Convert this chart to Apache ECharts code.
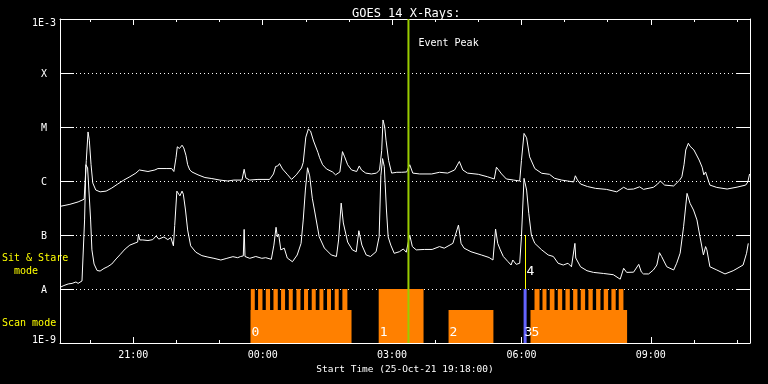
<!DOCTYPE html>
<html><head><meta charset="utf-8">
<script src="https://cdn.jsdelivr.net/npm/echarts@6/dist/echarts.min.js"></script>
<style>html,body{margin:0;padding:0;background:#000}#c{width:768px;height:384px}</style>
</head><body><div id="c"></div>
<script>
// Time: decimal hours since 00:00 UT on 25-Oct-21 (24 = 00:00 on 26-Oct)
const axisStart = 19.3;   // 19:18
const axisEnd = 35.3;     // 11:18 next day
const majorHours = [21, 24, 27, 30, 33];
const minorHours = [20, 22, 23, 25, 26, 28, 29, 31, 32, 34, 35];
const classLabels = {'-3': '1E-3', '-4': 'X', '-5': 'M', '-6': 'C', '-7': 'B', '-8': 'A', '-9': '1E-9'};

// GOES 14 long channel (1-8 A), W/m^2
const longTime = [19.31,19.53,19.72,19.86,19.91,19.95,19.98,20.02,20.06,20.13,20.23,20.37,20.50,20.64,20.78,20.92,21.06,21.14,21.18,21.34,21.50,21.57,21.76,21.89,21.94,21.99,22.02,22.07,22.13,22.17,22.22,22.26,22.31,22.36,22.50,22.66,22.82,23.01,23.19,23.33,23.52,23.57,23.61,23.70,23.89,24.16,24.25,24.30,24.35,24.39,24.46,24.58,24.67,24.78,24.90,24.94,25.00,25.06,25.11,25.18,25.28,25.32,25.39,25.48,25.62,25.69,25.79,25.85,25.90,25.97,26.06,26.18,26.24,26.29,26.39,26.52,26.64,26.71,26.76,26.79,26.83,26.86,26.92,26.99,27.11,27.22,27.34,27.41,27.48,27.64,27.92,28.10,28.29,28.45,28.56,28.64,28.75,29.00,29.21,29.37,29.42,29.47,29.54,29.65,29.82,29.96,30.00,30.06,30.12,30.19,30.31,30.47,30.65,30.77,30.93,31.07,31.21,31.25,31.30,31.37,31.53,31.72,31.97,32.21,32.37,32.46,32.60,32.74,32.83,33.06,33.16,33.22,33.32,33.53,33.67,33.72,33.77,33.81,33.87,33.91,33.95,34.00,34.12,34.19,34.23,34.27,34.31,34.37,34.53,34.77,35.00,35.20,35.25,35.29];
const longFlux = [3.4e-7,3.7e-7,4.1e-7,4.6e-7,2.4e-6,8.1e-6,5.7e-6,2.0e-6,9.2e-7,6.8e-7,6.3e-7,6.5e-7,7.4e-7,8.8e-7,1.04e-6,1.2e-6,1.4e-6,1.6e-6,1.47e-6,1.5e-6,1.6e-6,1.7e-6,1.7e-6,1.7e-6,1.5e-6,2.7e-6,4.3e-6,4.0e-6,4.6e-6,4.1e-6,3.0e-6,2.0e-6,1.6e-6,1.47e-6,1.3e-6,1.16e-6,1.11e-6,1.04e-6,1.0e-6,1.04e-6,1.04e-6,1.65e-6,1.14e-6,1.04e-6,1.07e-6,1.07e-6,1.35e-6,1.86e-6,1.9e-6,2.1e-6,1.67e-6,1.3e-6,1.07e-6,1.3e-6,1.74e-6,2.2e-6,6.5e-6,9.2e-6,8.4e-6,5.5e-6,3.4e-6,2.7e-6,2.0e-6,1.67e-6,1.47e-6,1.3e-6,1.47e-6,3.5e-6,2.8e-6,2.0e-6,1.6e-6,1.5e-6,1.9e-6,1.6e-6,1.4e-6,1.35e-6,1.4e-6,1.6e-6,3.7e-6,1.35e-5,1.0e-5,5.7e-6,2.4e-6,1.4e-6,1.45e-6,1.45e-6,1.47e-6,2.0e-6,1.4e-6,1.35e-6,1.35e-6,1.45e-6,1.4e-6,1.6e-6,2.3e-6,1.6e-6,1.4e-6,1.33e-6,1.2e-6,1.09e-6,1.8e-6,1.6e-6,1.35e-6,1.09e-6,1.04e-6,1.0e-6,2.4e-6,7.6e-6,6.3e-6,2.8e-6,1.7e-6,1.39e-6,1.33e-6,1.12e-6,1.04e-6,1.0e-6,9.6e-7,1.25e-6,1.04e-6,8.8e-7,7.9e-7,7.3e-7,7.0e-7,6.3e-7,7.65e-7,7.0e-7,7.1e-7,7.8e-7,7.0e-7,7.65e-7,8.8e-7,1.0e-6,8.4e-7,8.1e-7,1.04e-6,1.2e-6,2.0e-6,3.75e-6,5.0e-6,4.4e-6,4.4e-6,3.75e-6,2.45e-6,1.8e-6,1.3e-6,1.47e-6,1.45e-6,8.4e-7,7.6e-7,7.1e-7,7.7e-7,8.4e-7,9.6e-7,1.35e-6];

// GOES 14 short channel (0.5-4 A), W/m^2
const shortTime = [19.32,19.39,19.49,19.58,19.67,19.72,19.81,19.84,19.87,19.90,19.94,19.97,20.01,20.04,20.09,20.16,20.23,20.32,20.41,20.50,20.60,20.69,20.81,20.92,21.04,21.10,21.12,21.15,21.22,21.34,21.45,21.53,21.59,21.71,21.80,21.87,21.93,21.96,22.01,22.04,22.08,22.13,22.16,22.21,22.26,22.33,22.45,22.59,22.73,22.87,23.03,23.17,23.31,23.42,23.49,23.55,23.57,23.59,23.70,23.84,23.98,24.07,24.20,24.26,24.31,24.34,24.37,24.42,24.50,24.57,24.69,24.80,24.89,24.94,24.99,25.04,25.09,25.15,25.20,25.31,25.43,25.59,25.71,25.76,25.82,25.87,25.97,26.08,26.17,26.23,26.30,26.40,26.50,26.63,26.70,26.74,26.78,26.82,26.87,26.91,26.97,27.05,27.17,27.26,27.33,27.41,27.47,27.56,27.75,27.93,28.10,28.21,28.41,28.54,28.60,28.67,28.83,29.07,29.25,29.34,29.40,29.45,29.51,29.58,29.69,29.76,29.80,29.88,29.96,30.00,30.06,30.12,30.17,30.23,30.31,30.47,30.62,30.74,30.85,30.97,31.08,31.16,31.24,31.26,31.29,31.37,31.52,31.67,31.90,32.13,32.29,32.37,32.44,32.60,32.72,32.78,32.83,32.95,33.06,33.14,33.20,33.25,33.37,33.53,33.60,33.68,33.76,33.84,33.91,33.99,34.07,34.14,34.22,34.27,34.30,34.37,34.53,34.72,34.91,35.14,35.22,35.26];
const shortFlux = [1.09e-8,1.16e-8,1.24e-8,1.27e-8,1.35e-8,1.27e-8,1.41e-8,1.41e-8,1.9e-7,2.0e-6,1.74e-6,6.8e-7,1.9e-7,5.3e-8,2.9e-8,2.2e-8,2.15e-8,2.4e-8,2.6e-8,2.9e-8,3.6e-8,4.3e-8,5.5e-8,6.5e-8,7.1e-8,7.4e-8,1.04e-7,8.1e-8,8.1e-8,7.9e-8,8.2e-8,9.6e-8,8.4e-8,9.2e-8,8.2e-8,9.0e-8,6.3e-8,1.5e-7,6.5e-7,6.5e-7,5.3e-7,6.5e-7,5.7e-7,2.9e-7,1.24e-7,6.3e-8,4.8e-8,4.15e-8,3.9e-8,3.7e-8,3.44e-8,3.7e-8,3.97e-8,3.8e-8,4.0e-8,4.1e-8,1.27e-7,4.0e-8,3.7e-8,4.0e-8,3.7e-8,3.8e-8,3.55e-8,6.5e-8,1.39e-7,9.2e-8,1.04e-7,5.3e-8,5.7e-8,3.75e-8,3.2e-8,4.26e-8,7.0e-8,1.9e-7,6.8e-7,1.76e-6,1.24e-6,4.8e-7,2.9e-7,9.3e-8,5.74e-8,4.27e-8,4.0e-8,8.1e-8,3.9e-7,1.67e-7,7.4e-8,5.3e-8,4.9e-8,1.2e-7,6.5e-8,4.27e-8,4.0e-8,4.9e-8,9.3e-8,1.25e-6,2.6e-6,1.84e-6,2.9e-7,9.2e-8,6.5e-8,4.58e-8,4.9e-8,5.5e-8,4.8e-8,1.0e-7,6.1e-8,5.3e-8,5.4e-8,5.4e-8,6.1e-8,5.7e-8,7.0e-8,1.53e-7,7.0e-8,5.7e-8,4.9e-8,4.27e-8,3.83e-8,3.44e-8,1.29e-7,7.0e-8,5.3e-8,4.0e-8,3.2e-8,2.78e-8,3.44e-8,2.86e-8,3.0e-8,9.3e-8,1.12e-6,6.8e-7,2.52e-7,1.0e-7,7.0e-8,5.3e-8,4.27e-8,4.0e-8,3.0e-8,2.78e-8,3.0e-8,2.58e-8,7.0e-8,3.75e-8,4.0e-8,2.58e-8,2.18e-8,2.03e-8,1.94e-8,1.84e-8,1.52e-8,2.42e-8,2.03e-8,2.05e-8,2.86e-8,2.07e-8,1.9e-8,1.9e-8,2.25e-8,2.78e-8,4.7e-8,4.0e-8,2.58e-8,2.25e-8,3.0e-8,4.6e-8,1.42e-7,5.9e-7,3.86e-7,2.9e-7,1.9e-7,9.3e-8,4.27e-8,6.1e-8,5.3e-8,2.58e-8,2.25e-8,1.9e-8,2.18e-8,2.78e-8,4.6e-8,7.0e-8];

// Observation blocks (IDs, start/end hours, bar top value on the flux axis)
const blockLabel = ['0', '1', '2', '5'];
const blockStart = [23.72, 26.69, 28.31, 30.21];
const blockEnd   = [26.06, 27.73, 29.35, 32.45];
const blockTop   = [4.1e-9, 1e-8, 4.1e-9, 4.1e-9];
// individual scan rasters (full height)
const rasterStart = [23.724,23.893,24.072,24.250,24.426,24.605,24.783,24.959,25.137,25.316,25.492,25.670,25.848,
                     30.303,30.488,30.657,30.843,31.021,31.199,31.375,31.553,31.732,31.908,32.086,32.256];
const rasterEnd   = [23.817,23.995,24.171,24.350,24.519,24.697,24.876,25.052,25.230,25.408,25.584,25.763,25.964,
                     30.419,30.581,30.766,30.945,31.121,31.299,31.477,31.653,31.832,32.010,32.186,32.365];
const block3Start = 30.05, block3End = 30.12, block3Top = 1e-8;   // obs 3
const event4Time = 30.094;   // obs 4 (sit & stare)
const eventPeak = 27.38;     // event peak 03:23

const FONT = 'DejaVu Sans Mono';
const ORANGE = '#ff8000', BLUE = '#6464ff', GREEN = '#99cc00', YELLOW = '#ffff00';
const zip = (a, b) => a.map((t, i) => [t, b[i]]);
const fmtHour = v => String(((Math.round(v) % 24) + 24) % 24).padStart(2, '0') + ':00';

const rects = blockStart.map((s, i) => [s, blockEnd[i], blockTop[i], 0])
  .concat(rasterStart.map((s, i) => [s, rasterEnd[i], 1e-8, 0]))
  .concat([[block3Start, block3End, block3Top, 1]]);
const labelTimes = blockStart.concat([block3Start]);
const labelTexts = blockLabel.concat(['3']);

const chart = echarts.init(document.getElementById('c'));
const white = '#ffffff';
const xBase = {type: 'value', min: axisStart, max: axisEnd, splitLine: {show: false}, gridIndex: 0};
const option = {
  backgroundColor: '#000',
  animation: false,
  title: {text: 'GOES 14 X-Rays:', left: 347, top: 3,
    textStyle: {color: white, fontFamily: FONT, fontSize: 12, fontWeight: 'normal'}},
  grid: {left: 60, right: 18, top: 19, bottom: 41},
  xAxis: [
    Object.assign({}, xBase, {position: 'bottom',
      axisLine: {show: true, lineStyle: {color: white, width: 1}},
      axisTick: {show: true, inside: true, length: 6, customValues: majorHours, lineStyle: {color: white}},
      axisLabel: {show: true, customValues: majorHours, formatter: fmtHour, color: white, fontFamily: FONT, fontSize: 10, margin: 7},
      name: 'Start Time (25-Oct-21 19:18:00)', nameLocation: 'middle', nameGap: 20,
      nameTextStyle: {color: white, fontFamily: FONT, fontSize: 9.5}}),
    Object.assign({}, xBase, {position: 'bottom',
      axisLine: {show: false},
      axisTick: {show: true, inside: true, length: 3, customValues: minorHours, lineStyle: {color: white}},
      axisLabel: {show: false}}),
    Object.assign({}, xBase, {position: 'top',
      axisLine: {show: true, lineStyle: {color: white, width: 1}},
      axisTick: {show: true, inside: true, length: 6, customValues: majorHours, lineStyle: {color: white}},
      axisLabel: {show: false}}),
    Object.assign({}, xBase, {position: 'top',
      axisLine: {show: false},
      axisTick: {show: true, inside: true, length: 3, customValues: minorHours, lineStyle: {color: white}},
      axisLabel: {show: false}})
  ],
  yAxis: [
    {type: 'log', logBase: 10, min: 1e-9, max: 1e-3, splitNumber: 6, position: 'left',
      axisLine: {show: true, lineStyle: {color: white}},
      axisTick: {show: true, inside: true, length: 14, lineStyle: {color: white}},
      splitLine: {show: true, lineStyle: {color: white, type: [1, 3], width: 1}},
      axisLabel: {show: true, color: white, fontFamily: FONT, fontSize: 10, align: 'center', margin: 16,
        formatter: v => {
          const e = Math.round(Math.log10(v));
          const s = classLabels[e] || '';
          return e === -3 ? '{t|' + s + '}' : (e === -9 ? '{b|' + s + '}' : '{n|' + s + '}');
        },
        rich: {
          t: {padding: [8, 0, 0, 0], color: white, fontFamily: FONT, fontSize: 10},
          b: {padding: [0, 0, 6, 0], color: white, fontFamily: FONT, fontSize: 10},
          n: {padding: [2, 0, 0, 0], color: white, fontFamily: FONT, fontSize: 10}
        }}},
    {type: 'log', logBase: 10, min: 1e-9, max: 1e-3, splitNumber: 6, position: 'right',
      axisLine: {show: true, lineStyle: {color: white}},
      axisTick: {show: true, inside: true, length: 14, lineStyle: {color: white}},
      splitLine: {show: false}, axisLabel: {show: false}}
  ],
  graphic: [
    {type: 'text', left: 2, top: 252, style: {text: 'Sit & Stare\n  mode', fill: YELLOW, font: '10px ' + FONT, lineHeight: 13}},
    {type: 'text', left: 2, top: 318, style: {text: 'Scan mode', fill: YELLOW, font: '10px ' + FONT}}
  ],
  series: [
    {type: 'custom', name: 'obs', xAxisIndex: 0, yAxisIndex: 0, clip: true, z: 2,
      data: rects,
      renderItem: (params, api) => {
        const p0 = api.coord([api.value(0), api.value(2)]);
        const p1 = api.coord([api.value(1), 1e-9]);
        return {type: 'rect', shape: {x: p0[0], y: p0[1], width: p1[0] - p0[0], height: p1[1] - p0[1]},
          style: {fill: api.value(3) === 1 ? BLUE : ORANGE}};
      }},
    {type: 'custom', name: 'marks', xAxisIndex: 0, yAxisIndex: 0, clip: true, z: 4,
      data: [[eventPeak, 1e-3, 1e-9, 0], [event4Time, 1e-7, 1e-8, 1]],
      renderItem: (params, api) => {
        const a = api.coord([api.value(0), api.value(1)]);
        const b = api.coord([api.value(0), api.value(2)]);
        const isPeak = api.value(3) === 0;
        const x = isPeak ? a[0] : Math.round(a[0]) + 0.5;
        const children = [{type: 'line', shape: {x1: x, y1: a[1], x2: x, y2: b[1]},
          style: {stroke: isPeak ? GREEN : YELLOW, lineWidth: isPeak ? 2 : 1}}];
        if (isPeak) {
          children.push({type: 'text', x: x + 10, y: a[1] + 24,
            style: {text: 'Event Peak', fill: white, font: '10px ' + FONT, verticalAlign: 'middle'}});
        } else {
          children.push({type: 'text', x: x + 1, y: b[1] - 17,
            style: {text: '4', fill: white, font: '13px ' + FONT, verticalAlign: 'middle'}});
        }
        return {type: 'group', children: children};
      }},
    {type: 'custom', name: 'labels', xAxisIndex: 0, yAxisIndex: 0, clip: false, z: 5,
      data: labelTimes.map(t => [t, 1e-9]),
      renderItem: (params, api) => {
        const p = api.coord([api.value(0), api.value(1)]);
        return {type: 'text', x: p[0] + 1, y: p[1] - 10,
          style: {text: labelTexts[params.dataIndex], fill: white, font: '13px ' + FONT, verticalAlign: 'middle'}};
      }},
    {type: 'line', name: 'long', xAxisIndex: 0, yAxisIndex: 0, data: zip(longTime, longFlux),
      symbol: 'none', lineStyle: {color: white, width: 1}, z: 3, clip: true},
    {type: 'line', name: 'short', xAxisIndex: 0, yAxisIndex: 0, data: zip(shortTime, shortFlux),
      symbol: 'none', lineStyle: {color: white, width: 1}, z: 3, clip: true}
  ]
};
chart.setOption(option);
</script>
</body></html>
